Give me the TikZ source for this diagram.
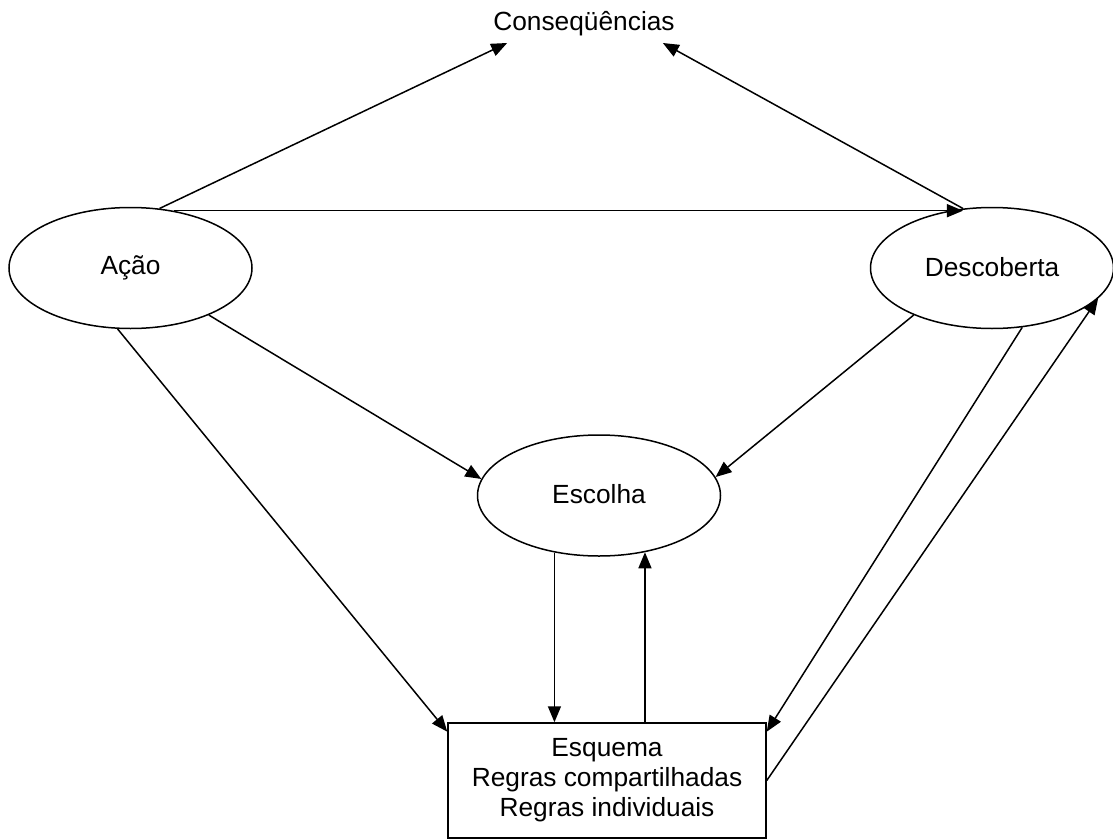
\documentclass[tikz,border=0pt]{standalone}
\usepackage{fontspec}
\setmainfont{Liberation Sans}
\usetikzlibrary{shapes.geometric,arrows.meta}
\begin{document}
\begin{tikzpicture}[x=1pt,y=-1pt,
  every node/.style={font=\fontsize{26.3}{30}\selectfont},
  oval/.style={draw,ellipse,line width=1.5pt,inner sep=0pt,minimum width=243pt,minimum height=121pt},
  panel/.style={draw,rectangle,line width=1.5pt,inner sep=0pt,minimum width=318pt,minimum height=115pt,align=center},
  link/.style={line width=1.5pt,-{Triangle[length=16pt,width=13pt]}}]
\fill[white] (0,0) rectangle (1113,840);
\useasboundingbox (0,0) rectangle (1113,840);

% nodes
\node[inner sep=0pt,anchor=base] (cons) at (584,31) {Conseqüências};
\node[oval] (aca) at (130.5,268) {\raisebox{2pt}{Ação}};
\node[oval] (desc) at (992,268) {\raisebox{3pt}{Descoberta}};
\node[oval] (esc) at (599,495.5) {\raisebox{3pt}{Escolha}};
\node[panel] (esq) at (607,780.5) {Esquema\\Regras compartilhadas\\Regras individuais};

% connectors
\draw[link] (aca.64) -- ([xshift=14pt,yshift=-12pt]cons.base west);
\draw[link] (desc.116) -- ([xshift=-12pt,yshift=-12pt]cons.base east);
\draw[link] (aca.53) -- (aca.53 -| desc.116);
\draw[link] (aca.-31) -- (esc.172);
\draw[link] (desc.211) -- (esc.9);
\draw[link] (aca.-102) -- (esq.163);
\draw[link] (esc.232) -- (esc.232 |- esq.north);
\draw[link] (esq.north -| esc.309) -- (esc.309);
\draw[link] (desc.-63) -- (esq.17);
\draw[link] (esq.east) -- (desc.-16);
\end{tikzpicture}
\end{document}
